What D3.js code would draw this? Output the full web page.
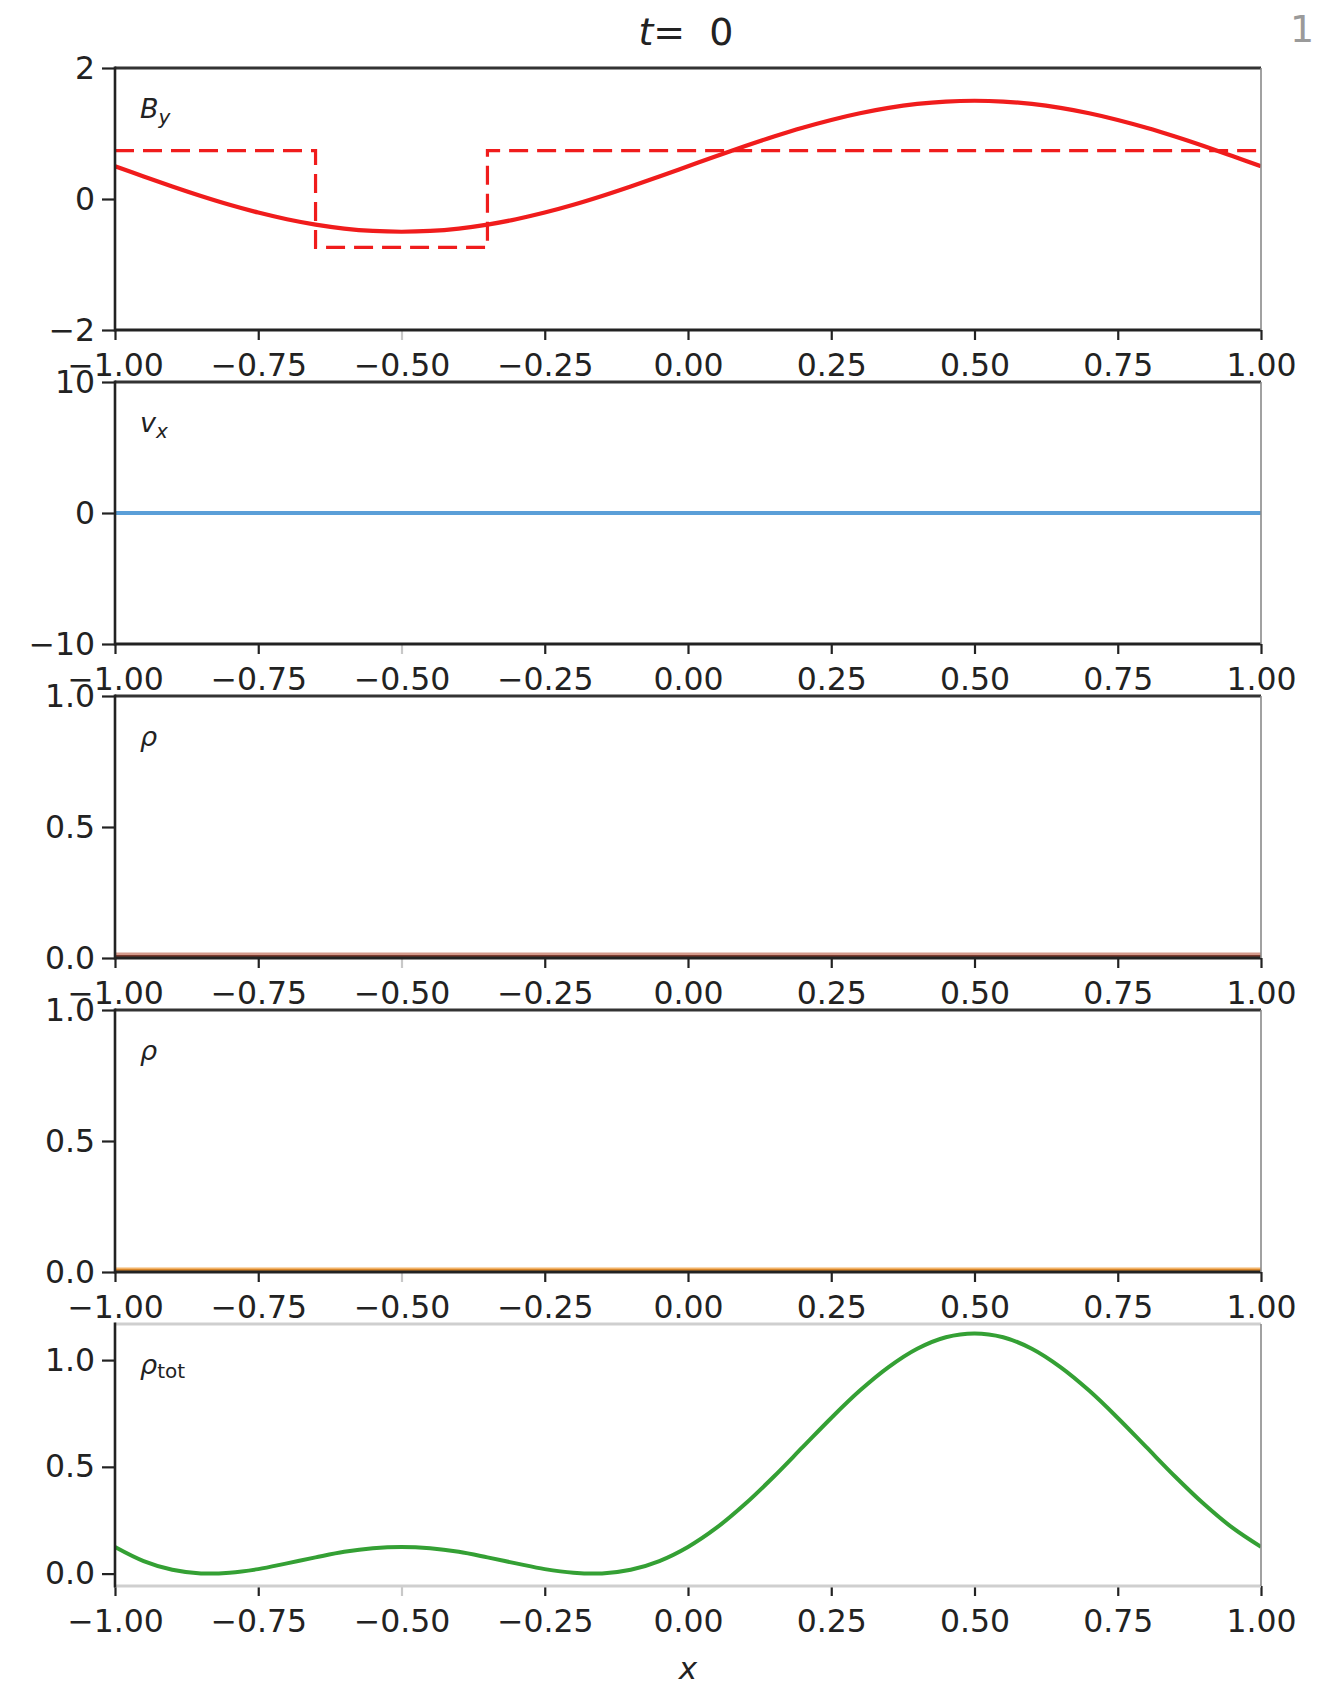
<!DOCTYPE html>
<html>
<head>
<meta charset="utf-8">
<script src="https://cdn.jsdelivr.net/npm/d3@7"></script>
<style>
  html, body { margin: 0; padding: 0; background: #fff; }
  svg { display: block; }
  text { font-family: "DejaVu Sans", sans-serif; }
</style>
</head>
<body>
<svg id="chart" width="1320" height="1686"></svg>
<script>
// ---- data ----
const xs = [-1.00,-0.95,-0.90,-0.85,-0.80,-0.75,-0.70,-0.65,-0.60,-0.55,-0.50,-0.45,-0.40,-0.35,-0.30,-0.25,-0.20,-0.15,-0.10,-0.05,
            0.00,0.05,0.10,0.15,0.20,0.25,0.30,0.35,0.40,0.45,0.50,0.55,0.60,0.65,0.70,0.75,0.80,0.85,0.90,0.95,1.00];
const byValues = [0.500,0.344,0.191,0.046,-0.088,-0.207,-0.309,-0.391,-0.451,-0.488,-0.500,-0.488,-0.451,-0.391,-0.309,-0.207,-0.088,0.046,0.191,0.344,
                  0.500,0.656,0.809,0.954,1.088,1.207,1.309,1.391,1.451,1.488,1.500,1.488,1.451,1.391,1.309,1.207,1.088,0.954,0.809,0.656,0.500];
const byInitX = [-1.00,-0.65,-0.65,-0.35,-0.35,1.00];
const byInitY = [0.74,0.74,-0.74,-0.74,0.74,0.74];
const vxValues = xs.map(() => 0);
const rho1Values = xs.map(() => 0);
const rho2Values = xs.map(() => 0);
const rhoTotValues = [0.125,0.059,0.018,0.001,0.004,0.021,0.048,0.076,0.102,0.119,0.125,0.119,0.102,0.076,0.048,0.021,0.004,0.001,0.018,0.059,
                      0.125,0.215,0.327,0.455,0.592,0.729,0.857,0.967,1.053,1.107,1.125,1.107,1.053,0.967,0.857,0.729,0.592,0.455,0.327,0.215,0.125];
const xTicks = [-1.00,-0.75,-0.50,-0.25,0.00,0.25,0.50,0.75,1.00];
const yTicksBy = [-2,0,2];
const yTicksVx = [-10,0,10];
const yTicksRho = [0.0,0.5,1.0];
const titleValue = "0";

// ---- layout ----
const svg = d3.select("#chart");
const L = 115, R = 1261, H = 262, top0 = 68, step = 314;
const x = d3.scaleLinear().domain([-1, 1]).range([L, R]);
const fmtX = d => d3.format(".2f")(d).replace("-", "\u2212");

const panels = [
  {domain: [-2, 2], ticks: yTicksBy, fmt: d => String(d).replace("-", "\u2212"), label: "By"},
  {domain: [-10, 10], ticks: yTicksVx, fmt: d => String(d).replace("-", "\u2212"), label: "vx"},
  {domain: [0, 1], ticks: yTicksRho, fmt: d => d3.format(".1f")(d), label: "rho"},
  {domain: [0, 1], ticks: yTicksRho, fmt: d => d3.format(".1f")(d), label: "rho"},
  {domain: [-0.058, 1.169], ticks: yTicksRho, fmt: d => d3.format(".1f")(d), label: "rhotot"}
];

const defs = svg.append("defs");

panels.forEach((p, i) => {
  const top = top0 + i * step, bottom = top + H;
  const y = d3.scaleLinear().domain(p.domain).range([bottom, top]);
  p.y = y;
  defs.append("clipPath").attr("id", "clip" + i)
    .append("rect").attr("x", L).attr("y", top).attr("width", R - L).attr("height", H);
  const g = svg.append("g");
  const plot = g.append("g").attr("clip-path", `url(#clip${i})`);
  p.plot = plot;

  // x axis
  const xa = g.append("g").attr("transform", `translate(0,${bottom})`)
    .call(d3.axisBottom(x).tickValues(xTicks).tickFormat(fmtX).tickSize(10).tickPadding(14));
  xa.select(".domain").remove();
  xa.selectAll("line").attr("stroke", d => d === -0.5 ? "#c8c8c8" : "#222").attr("stroke-width", 2.2);
  xa.selectAll("text").attr("font-size", 31.5).attr("fill", "#222")
    .attr("font-family", "DejaVu Sans, sans-serif");

  // y axis
  const ya = g.append("g").attr("transform", `translate(${L},0)`)
    .call(d3.axisLeft(y).tickValues(p.ticks).tickFormat(p.fmt).tickSize(13).tickPadding(7));
  ya.select(".domain").remove();
  ya.selectAll("line").attr("stroke", "#222").attr("stroke-width", 2.2);
  ya.selectAll("text").attr("font-size", 31.5).attr("fill", "#222")
    .attr("font-family", "DejaVu Sans, sans-serif");

  p.spines = () => {
    const light = i === 4;
    g.append("line").attr("x1", L).attr("x2", R).attr("y1", top).attr("y2", top)
      .attr("stroke", light ? "#cfcfcf" : "#333").attr("stroke-width", 3);
    g.append("line").attr("x1", L).attr("x2", R).attr("y1", bottom).attr("y2", bottom)
      .attr("stroke", light ? "#cfcfcf" : "#222").attr("stroke-width", 3);
    g.append("line").attr("x1", R).attr("x2", R).attr("y1", top).attr("y2", bottom)
      .attr("stroke", "#8a8a8a").attr("stroke-width", 1.6);
    g.append("line").attr("x1", L).attr("x2", L).attr("y1", top - 1.5).attr("y2", bottom + 1.5)
      .attr("stroke", "#222").attr("stroke-width", 2.6);
  };

  // panel label
  const t = g.append("text").attr("x", L + 25).attr("y", top + 50)
    .attr("font-size", 27).attr("fill", "#222");
  if (p.label === "By") {
    t.append("tspan").attr("font-style", "italic").text("B");
    t.append("tspan").attr("font-style", "italic").attr("font-size", 20).attr("dy", 6).text("y");
  } else if (p.label === "vx") {
    t.append("tspan").attr("font-style", "italic").text("v");
    t.append("tspan").attr("font-style", "italic").attr("font-size", 20).attr("dy", 6).text("x");
  } else if (p.label === "rho") {
    t.append("tspan").attr("font-style", "italic").text("\u03c1");
  } else {
    t.append("tspan").attr("font-style", "italic").text("\u03c1");
    t.append("tspan").attr("font-size", 20).attr("dy", 4).text("tot");
  }
});

// ---- series ----
const line = (y) => d3.line().x(d => x(d[0])).y(d => y(d[1])).curve(d3.curveCatmullRom);

// Panel 1: B_y
panels[0].plot.append("path")
  .datum(d3.zip(byInitX, byInitY))
  .attr("d", d3.line().x(d => x(d[0])).y(d => panels[0].y(d[1])))
  .attr("fill", "none").attr("stroke", "#f01c1c").attr("stroke-width", 3.2)
  .attr("stroke-dasharray", "19,9");
panels[0].plot.append("path")
  .datum(d3.zip(xs, byValues))
  .attr("d", line(panels[0].y))
  .attr("fill", "none").attr("stroke", "#f01c1c").attr("stroke-width", 4.2);

// Panel 2: v_x
panels[1].plot.append("path")
  .datum(d3.zip(xs, vxValues))
  .attr("d", line(panels[1].y))
  .attr("fill", "none").attr("stroke", "#5b9fd8").attr("stroke-width", 4);

// Panel 3: rho (species 1)
panels[2].plot.append("path")
  .datum(d3.zip(xs, rho1Values))
  .attr("d", line(panels[2].y))
  .attr("fill", "none").attr("stroke", "#d49a8c").attr("stroke-width", 11);
panels[2].plot.append("path")
  .datum(d3.zip(xs, rho1Values))
  .attr("d", line(panels[2].y))
  .attr("fill", "none").attr("stroke", "#7a3a2e").attr("stroke-width", 6);

// Panel 4: rho (species 2)
panels[3].plot.append("path")
  .datum(d3.zip(xs, rho2Values))
  .attr("d", line(panels[3].y))
  .attr("fill", "none").attr("stroke", "#f2b46a").attr("stroke-width", 9);
panels[3].plot.append("path")
  .datum(d3.zip(xs, rho2Values))
  .attr("d", line(panels[3].y))
  .attr("fill", "none").attr("stroke", "#d9862a").attr("stroke-width", 6);

// Panel 5: rho_tot
panels[4].plot.append("path")
  .datum(d3.zip(xs, rhoTotValues))
  .attr("d", line(panels[4].y))
  .attr("fill", "none").attr("stroke", "#34a034").attr("stroke-width", 4);

panels.forEach(p => p.spines());

// ---- title, x label, corner mark ----
const title = svg.append("text").attr("x", x(0) - 2).attr("y", 45)
  .attr("text-anchor", "middle").attr("font-size", 38).attr("fill", "#222");
title.append("tspan").attr("font-style", "italic").text("t");
title.append("tspan").text("=\u00a0\u00a0" + titleValue);

svg.append("text").attr("x", x(0)).attr("y", 1679)
  .attr("text-anchor", "middle").attr("font-size", 31).attr("font-style", "italic")
  .attr("fill", "#222").text("x");

svg.append("text").attr("x", 1290).attr("y", 42)
  .attr("font-size", 38).attr("fill", "#9a9a9a").text("1");
</script>
</body>
</html>
